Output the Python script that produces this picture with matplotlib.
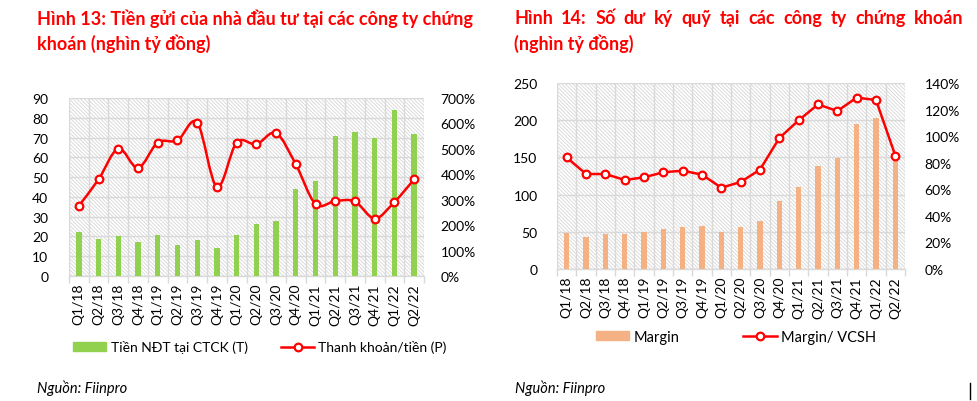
import matplotlib
matplotlib.use("Agg")
import matplotlib.pyplot as plt
import numpy as np
from matplotlib.path import Path
from matplotlib.patches import PathPatch
from matplotlib.ticker import FuncFormatter, MultipleLocator
from matplotlib.lines import Line2D

plt.rcParams['font.family'] = ['Lato', 'DejaVu Sans']
plt.rcParams['hatch.color'] = '#d6d6d6'
plt.rcParams['hatch.linewidth'] = 0.6

quarters = ["Q1/18", "Q2/18", "Q3/18", "Q4/18", "Q1/19", "Q2/19", "Q3/19", "Q4/19",
            "Q1/20", "Q2/20", "Q3/20", "Q4/20", "Q1/21", "Q2/21", "Q3/21", "Q4/21",
            "Q1/22", "Q2/22"]

# Chart 13
deposits = [22.0, 18.9, 20.0, 17.3, 20.8, 15.9, 18.1, 14.0, 20.8, 26.2, 27.9, 44.2,
            48.2, 70.9, 72.9, 70.0, 84.1, 71.9]
turnover_ratio = [276, 380, 501, 425, 525, 533, 603, 350, 525, 518, 562, 439,
                  283, 295, 293, 226, 291, 380]

# Chart 14
margin = [48.8, 43.5, 47.5, 47.5, 50.2, 54.2, 56.9, 58.2, 49.7, 56.5, 64.5, 91.4,
          110.7, 138.4, 149.6, 194.9, 203.0, 148.0]
margin_equity = [84.0, 71.5, 71.5, 67.0, 69.0, 72.8, 74.0, 71.0, 61.2, 65.5, 74.8, 98.6,
                 111.9, 123.9, 118.9, 129.0, 127.2, 85.3]

RED = '#FF0000'
GREEN = '#92D050'
ORANGE = '#F4B183'
GRID = '#d9d9d9'
TXT = '#000000'

W, H = 977, 402
fig = plt.figure(figsize=(W / 100, H / 100), dpi=100)


def style_axes(ax, ax2, ymax, ystep, y2max, y2step, pad_l, pad_r):
    n = len(quarters)
    x = np.arange(n)
    ax.set_xlim(-0.5, n - 0.5)
    ax.set_ylim(0, ymax)
    ax2.set_ylim(0, y2max)
    ax.yaxis.set_major_locator(MultipleLocator(ystep))
    ax2.yaxis.set_major_locator(MultipleLocator(y2step))
    ax2.yaxis.set_major_formatter(FuncFormatter(lambda v, p: f"{int(round(v))}%"))
    ax.set_xticks(x)
    ax.set_xticklabels(quarters, rotation=90, fontsize=10, color=TXT)
    ax.set_xticks(np.arange(-0.5, n, 1.0), minor=True)
    ax.tick_params(axis='x', which='major', length=0, pad=5)
    ax.tick_params(axis='x', which='minor', length=5, color=GRID, width=1)
    ax.tick_params(axis='y', length=0, labelsize=10, pad=pad_l, labelcolor=TXT)
    ax2.tick_params(axis='y', length=0, labelsize=10, pad=pad_r, labelcolor=TXT)
    ax.grid(True, axis='y', color=GRID, linewidth=1)
    ax.grid(True, axis='x', which='minor', color=GRID, linewidth=1)
    ax.set_axisbelow(True)
    for a in (ax, ax2):
        for s in a.spines.values():
            s.set_visible(False)
    ax.spines['bottom'].set_visible(True)
    ax.spines['bottom'].set_color(GRID)
    ax.spines['bottom'].set_linewidth(1)
    ax.patch.set_facecolor('white')
    ax.patch.set_hatch('\\' * 9)
    ax.patch.set_edgecolor('#d6d6d6')
    ax.patch.set_linewidth(0)
    ax2.patch.set_visible(False)


def smooth_path(xs, ys):
    pts = np.column_stack([xs, ys]).astype(float)
    verts = [pts[0]]
    codes = [Path.MOVETO]
    n = len(pts)
    for i in range(n - 1):
        p0 = pts[i - 1] if i > 0 else pts[i]
        p1 = pts[i]
        p2 = pts[i + 1]
        p3 = pts[i + 2] if i + 2 < n else pts[i + 1]
        c1 = p1 + (p2 - p0) / 6.0
        c2 = p2 - (p3 - p1) / 6.0
        verts += [c1, c2, p2]
        codes += [Path.CURVE4] * 3
    return Path(verts, codes)


# ---- Left chart
axL = fig.add_axes([69 / W, 1 - 277 / H, (424 - 69) / W, (277 - 99) / H])
axL2 = axL.twinx()
xL = np.arange(len(quarters))
axL.bar(xL, deposits, width=0.27, color=GREEN, zorder=3)
style_axes(axL, axL2, 90, 10, 700, 100, 15, 12)
axL2.add_patch(PathPatch(smooth_path(xL, turnover_ratio), facecolor='none',
                         edgecolor=RED, linewidth=1.8, zorder=4))
axL2.plot(xL, turnover_ratio, linestyle='none', marker='o', markersize=5.5,
          markerfacecolor='white', markeredgecolor=RED, markeredgewidth=1.6, zorder=5)

# ---- Right chart
axR = fig.add_axes([557 / W, 1 - 270 / H, (905 - 557) / W, (270 - 84) / H])
axR2 = axR.twinx()
xR = np.arange(len(quarters))
axR.bar(xR, margin, width=0.28, color=ORANGE, zorder=3)
style_axes(axR, axR2, 250, 50, 140, 20, 14, 14)
axR2.plot(xR, margin_equity, color=RED, linewidth=1.8, marker='o', markersize=5.5,
          markerfacecolor='white', markeredgecolor=RED, markeredgewidth=1.6, zorder=5)

# ---- Titles
title_kw = dict(color=RED, fontsize=13, fontweight='bold', va='top', ha='left')
fig.text(37 / W, 1 - 10 / H, "Hình 13: Tiền gửi của nhà đầu tư tại các công ty chứng", **title_kw)
fig.text(37 / W, 1 - 34 / H, "khoán (nghìn tỷ đồng)", **title_kw)

# justified first line of the right title
words = ["Hình", "14:", "Số", "dư", "ký", "quỹ", "tại", "các", "công", "ty", "chứng", "khoán"]
x0, x1 = 514, 963
renderer = fig.canvas.get_renderer()
arts = [fig.text(0, 1 - 10 / H, w, **title_kw) for w in words]
widths = [a.get_window_extent(renderer).width for a in arts]
gap = (x1 - x0 - sum(widths)) / (len(words) - 1)
cur = x0
for a, wd in zip(arts, widths):
    a.set_x(cur / W)
    cur += wd + gap
fig.text(514 / W, 1 - 34 / H, "(nghìn tỷ đồng)", **title_kw)

# ---- Legends
def line_handle():
    return Line2D([], [], color=RED, linewidth=1.8, marker='o', markersize=5.5,
                  markerfacecolor='white', markeredgecolor=RED, markeredgewidth=1.6)

fig.legend([plt.Rectangle((0, 0), 1, 1, color=GREEN), line_handle()],
           ["Tiền NĐT tại CTCK (T)", "Thanh khoản/tiền (P)"],
           loc='center', bbox_to_anchor=(260 / W, 1 - 348 / H), ncol=2, frameon=False,
           fontsize=10, handlelength=2.4, handleheight=0.55, columnspacing=2.4,
           handletextpad=0.3)
fig.legend([plt.Rectangle((0, 0), 1, 1, color=ORANGE), line_handle()],
           ["Margin", "Margin/ VCSH"],
           loc='center', bbox_to_anchor=(736 / W, 1 - 338 / H), ncol=2, frameon=False,
           fontsize=10.5, handlelength=2.3, handleheight=0.55, columnspacing=4.4,
           handletextpad=0.3)

# ---- Sources
fig.text(37 / W, 1 - 388 / H, "Nguồn: Fiinpro", fontsize=10.5, style='italic',
         va='center', ha='left', color=TXT)
fig.text(515 / W, 1 - 388 / H, "Nguồn: Fiinpro", fontsize=10.5, style='italic',
         va='center', ha='left', color=TXT)

fig.add_artist(Line2D([970 / W, 970 / W], [1 - 384 / H, 1 - 400 / H],
                      color='black', linewidth=1))

fig.savefig("out.png", dpi=100)
